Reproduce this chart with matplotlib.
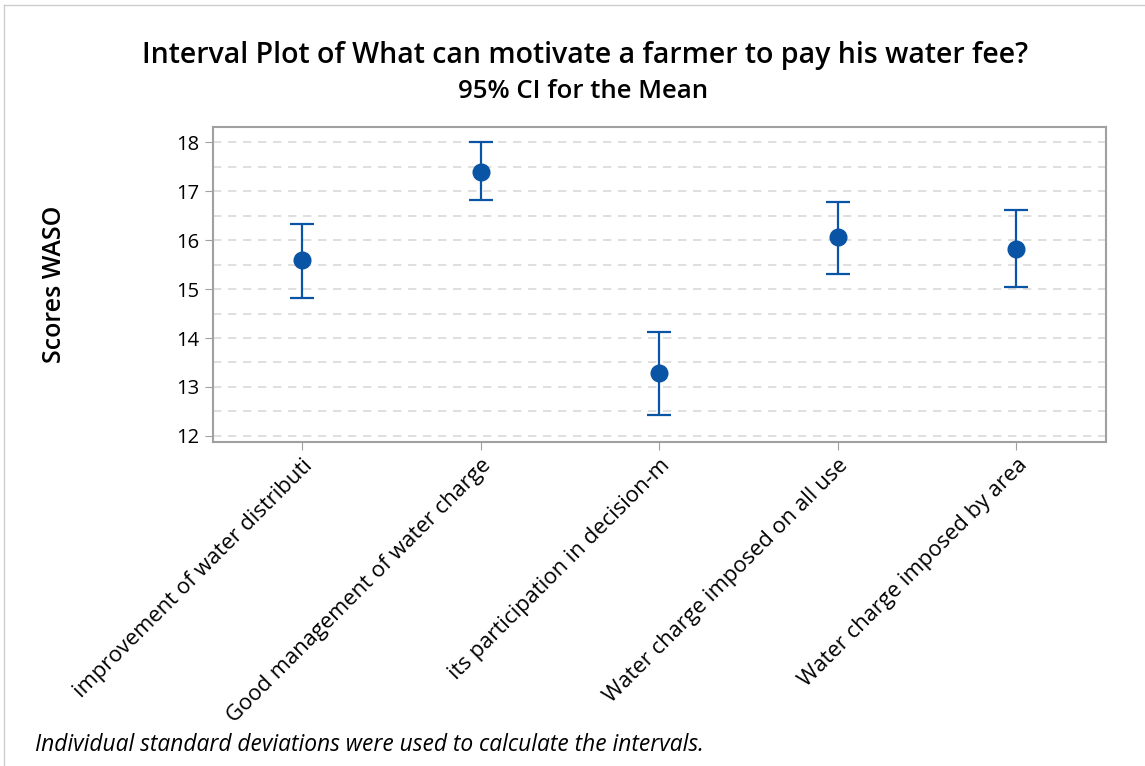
import matplotlib.pyplot as plt
from matplotlib.lines import Line2D
import numpy as np

plt.rcParams['font.family'] = ['Open Sans', 'DejaVu Sans']

categories = ['improvement of water distributi', 'Good management of water charge',
              'its participation in decision-m', 'Water charge imposed on all use',
              'Water charge imposed by area']
means = [15.59, 17.40, 13.28, 16.06, 15.82]
lower = [14.81, 16.82, 12.43, 15.30, 15.05]
upper = [16.34, 18.00, 14.13, 16.78, 16.62]
yticks = [12, 13, 14, 15, 16, 17, 18]

blue = '#0a54a5'
fig = plt.figure(figsize=(11.45, 7.66), dpi=100)
ax = fig.add_axes([212.7 / 1145, 1 - 441.7 / 766, 893 / 1145, 315 / 766])

x = np.arange(1, len(categories) + 1)
m = np.array(means)
err = [m - np.array(lower), np.array(upper) - m]
ax.errorbar(x, m, yerr=err, fmt='o', color=blue, ecolor=blue, markersize=12,
            elinewidth=1.6, capsize=8.5, capthick=1.6, zorder=3)

ax.set_xlim(0.5, 5.5)
ax.set_ylim(11.88, 18.32)
ax.set_yticks(yticks)
ax.set_yticks(np.arange(12.5, 18, 1), minor=True)
ax.tick_params(axis='y', which='minor', length=0)
ax.grid(axis='y', which='both', linestyle=(0, (5, 4)), color='#d9d9d9', linewidth=1.2)
ax.set_axisbelow(True)
ax.tick_params(axis='both', which='major', direction='out', length=6, color='#a0a0a0')
ax.tick_params(axis='y', labelsize=14.5)
ax.set_xticks(x)
ax.set_xticklabels(categories, rotation=45, ha='right', rotation_mode='anchor', fontsize=15.8)
for s in ax.spines.values():
    s.set_color('#a0a0a0')
    s.set_linewidth(1.5)

ax.set_ylabel('Scores WASO', fontsize=18, fontweight='semibold')
ax.yaxis.set_label_coords((67 - 212.7) / 893, 0.5)

fig.text(585 / 1145, 1 - 55 / 766, 'Interval Plot of What can motivate a farmer to pay his water fee?',
         ha='center', va='center', fontsize=20.5, fontweight='semibold')
fig.text(583 / 1145, 1 - 92 / 766, '95% CI for the Mean', ha='center', va='center',
         fontsize=18.5, fontweight='semibold')
fig.text(35 / 1145, 1 - 745 / 766, 'Individual standard deviations were used to calculate the intervals.',
         ha='left', va='center', fontsize=16.4, style='italic')

# thin frame along the top and left edges
fig.add_artist(Line2D([4 / 1145, 4 / 1145], [0, 1 - 5 / 766], transform=fig.transFigure,
                      color='#cccccc', linewidth=1))
fig.add_artist(Line2D([4 / 1145, 1], [1 - 5 / 766, 1 - 5 / 766], transform=fig.transFigure,
                      color='#cccccc', linewidth=1))

fig.savefig('out.png', dpi=100)
